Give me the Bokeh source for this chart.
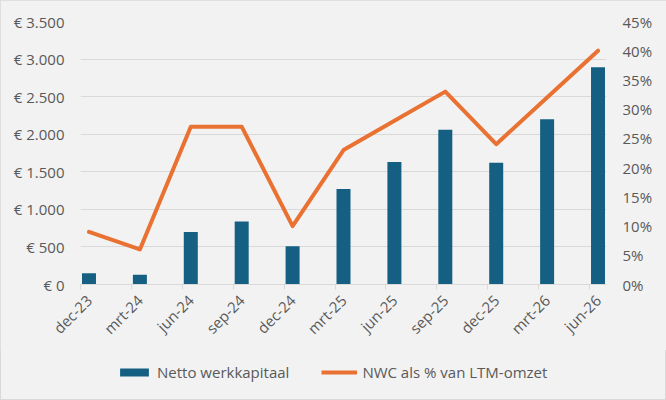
import math
from bokeh.plotting import figure
from bokeh.layouts import column
from bokeh.models import Range1d, LinearAxis, FixedTicker, Legend, LegendItem
from bokeh.embed import file_html
from bokeh.resources import INLINE

# ---- data ----
periods = ["dec-23", "mrt-24", "jun-24", "sep-24", "dec-24", "mrt-25",
           "jun-25", "sep-25", "dec-25", "mrt-26", "jun-26"]
nwc = [150, 130, 700, 840, 510, 1270, 1630, 2060, 1620, 2200, 2890]
nwc_pct = [9, 6, 27, 27, 10, 23, 28, 33, 24, 32, 40]
left_ticks = [0, 500, 1000, 1500, 2000, 2500, 3000, 3500]
left_labels = ["€ 0", "€ 500", "€ 1.000", "€ 1.500", "€ 2.000", "€ 2.500", "€ 3.000", "€ 3.500"]
right_ticks = [0, 5, 10, 15, 20, 25, 30, 35, 40, 45]
right_labels = ["0%", "5%", "10%", "15%", "20%", "25%", "30%", "35%", "40%", "45%"]
series_names = ["Netto werkkapitaal", "NWC als % van LTM-omzet"]

# monthly date axis: each quarter-end is 3 month-slots apart
MONTHS_PER_STEP = 3
x = [i * MONTHS_PER_STEP for i in range(len(periods))]
n_slots = MONTHS_PER_STEP * (len(periods) - 1) + 1

FONT = "Open Sans"
TXT = "#595959"
GRID = "#D9D9D9"
BG = "#F2F2F2"
BAR = "#156082"
LINE = "#E97132"
W = 666
H_MAIN = 350
H_LEG = 50

p = figure(width=W, height=H_MAIN, output_backend="svg", toolbar_location=None,
           x_range=Range1d(-0.5, n_slots - 0.5), y_range=Range1d(0, 3500),
           min_border_left=80, min_border_right=60, min_border_top=21, min_border_bottom=66)
p.background_fill_color = BG
p.border_fill_color = BG
p.outline_line_color = None
p.extra_y_ranges = {"pct": Range1d(0, 45)}

bars = p.vbar(x=x, top=nwc, width=0.825, fill_color=BAR, line_color=None)
line = p.line(x=x, y=nwc_pct, y_range_name="pct", line_color=LINE, line_width=4,
              line_join="round", line_cap="round")

# x axis
xa = p.xaxis[0]
xa.ticker = FixedTicker(ticks=x, minor_ticks=[k - 0.5 for k in range(0, n_slots, MONTHS_PER_STEP)])
xa.major_label_overrides = {xi: lab for xi, lab in zip(x, periods)}
xa.major_label_orientation = math.pi / 4
xa.major_tick_out = 0
xa.major_tick_in = 0
xa.minor_tick_out = 5
xa.minor_tick_in = 0
xa.minor_tick_line_color = GRID
xa.axis_line_color = GRID
xa.major_label_text_font = FONT
xa.major_label_text_font_size = "15px"
xa.major_label_text_color = TXT
xa.major_label_standoff = 8

# left axis
ya = p.yaxis[0]
ya.ticker = FixedTicker(ticks=left_ticks)
ya.major_label_overrides = {t: l for t, l in zip(left_ticks, left_labels)}
ya.axis_line_color = None
ya.major_tick_line_color = None
ya.minor_tick_line_color = None
ya.major_tick_out = 0
ya.major_tick_in = 0
ya.major_label_standoff = 16
ya.major_label_text_font = FONT
ya.major_label_text_font_size = "15px"
ya.major_label_text_color = TXT

# right axis
ra = LinearAxis(y_range_name="pct", ticker=FixedTicker(ticks=right_ticks))
ra.major_label_overrides = {t: l for t, l in zip(right_ticks, right_labels)}
ra.axis_line_color = None
ra.major_tick_line_color = None
ra.minor_tick_line_color = None
ra.major_tick_out = 0
ra.major_tick_in = 0
ra.major_label_standoff = 16
ra.major_label_text_font = FONT
ra.major_label_text_font_size = "15px"
ra.major_label_text_color = TXT
p.add_layout(ra, "right")

p.xgrid.grid_line_color = None
p.ygrid.grid_line_color = GRID
p.ygrid.ticker = FixedTicker(ticks=left_ticks)

# legend strip (separate svg figure; its frame is aligned with the main frame)
p2 = figure(width=W, height=H_LEG, output_backend="svg", toolbar_location=None,
            x_range=Range1d(0, 1), y_range=Range1d(0, 1),
            x_axis_location=None, y_axis_location=None,
            min_border=0)
p2.background_fill_color = None
p2.border_fill_color = None
p2.outline_line_color = None
p2.grid.visible = False
# zero-size proxy renderers that only supply the legend swatches
lb = p2.vbar(x=[0.5], top=[0], bottom=[0], width=0.5, fill_color=BAR, line_color=None)
ll = p2.line(x=[-1, -1], y=[-1, -1], line_color=LINE, line_width=4, line_cap="butt")
legend = Legend(items=[LegendItem(label=series_names[0], renderers=[lb]),
                       LegendItem(label=series_names[1], renderers=[ll])],
                orientation="horizontal", location=(36, 18),
                glyph_width=36, glyph_height=10, label_standoff=5, spacing=32,
                padding=0, margin=0, background_fill_alpha=0, border_line_color=None,
                label_text_font=FONT, label_text_font_size="15px", label_text_color=TXT)
p2.add_layout(legend, "center")

layout = column(p, p2, spacing=0,
                styles={"background-color": BG, "outline": "1px solid #D9D9D9",
                        "outline-offset": "-1px"})
open("out.html", "w").write(file_html(layout, INLINE))
